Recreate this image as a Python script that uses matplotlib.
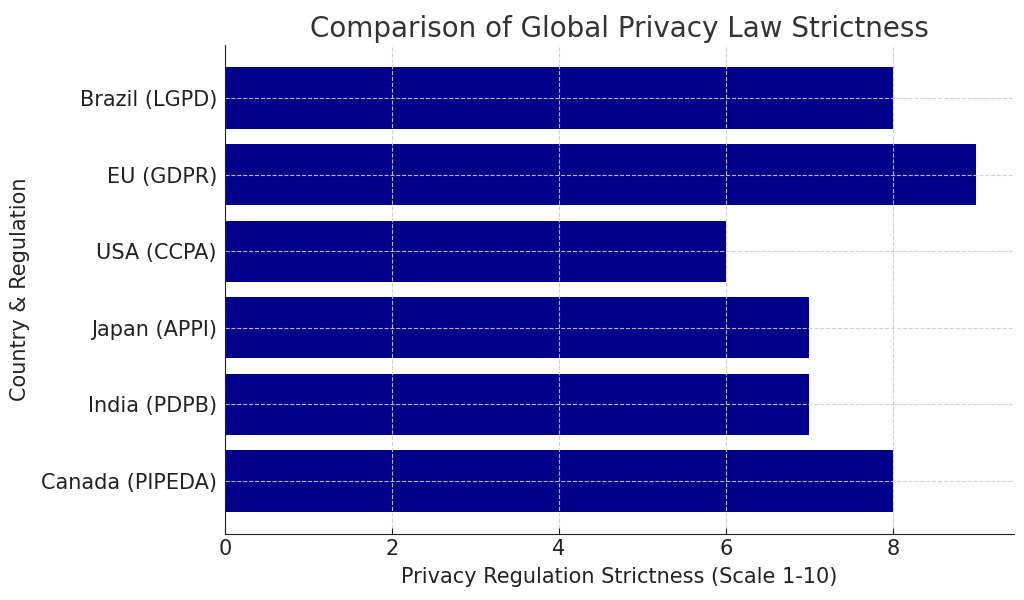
import numpy as np
import matplotlib.pyplot as plt

countries = ["Canada (PIPEDA)", "India (PDPB)", "Japan (APPI)",
             "USA (CCPA)", "EU (GDPR)", "Brazil (LGPD)"]
strictness = [8, 7, 7, 6, 9, 8]

fig, ax = plt.subplots(figsize=(10.24, 6), dpi=100)
ax.barh(countries, strictness, color="darkblue", height=0.8)

ax.set_title("Comparison of Global Privacy Law Strictness", fontsize=20, color="#333333")
ax.set_xlabel("Privacy Regulation Strictness (Scale 1-10)", fontsize=15, color="#222222", labelpad=6)
ax.set_ylabel("Country & Regulation", fontsize=15, color="#222222", labelpad=8)
ax.tick_params(labelsize=15, colors="#222222")
ax.tick_params(axis="x", direction="in", length=4)
ax.tick_params(axis="y", length=0, pad=6)
ax.set_axisbelow(False)
ax.grid(True, linestyle="--", color="#cccccc", linewidth=0.8, alpha=0.9)
ax.spines["top"].set_visible(False)
ax.spines["right"].set_visible(False)
for s in ("left", "bottom"):
    ax.spines[s].set_zorder(5)
    ax.spines[s].set_color("#222222")

plt.subplots_adjust(left=0.22, right=0.99, top=0.925, bottom=0.11)
plt.savefig("out.png")
